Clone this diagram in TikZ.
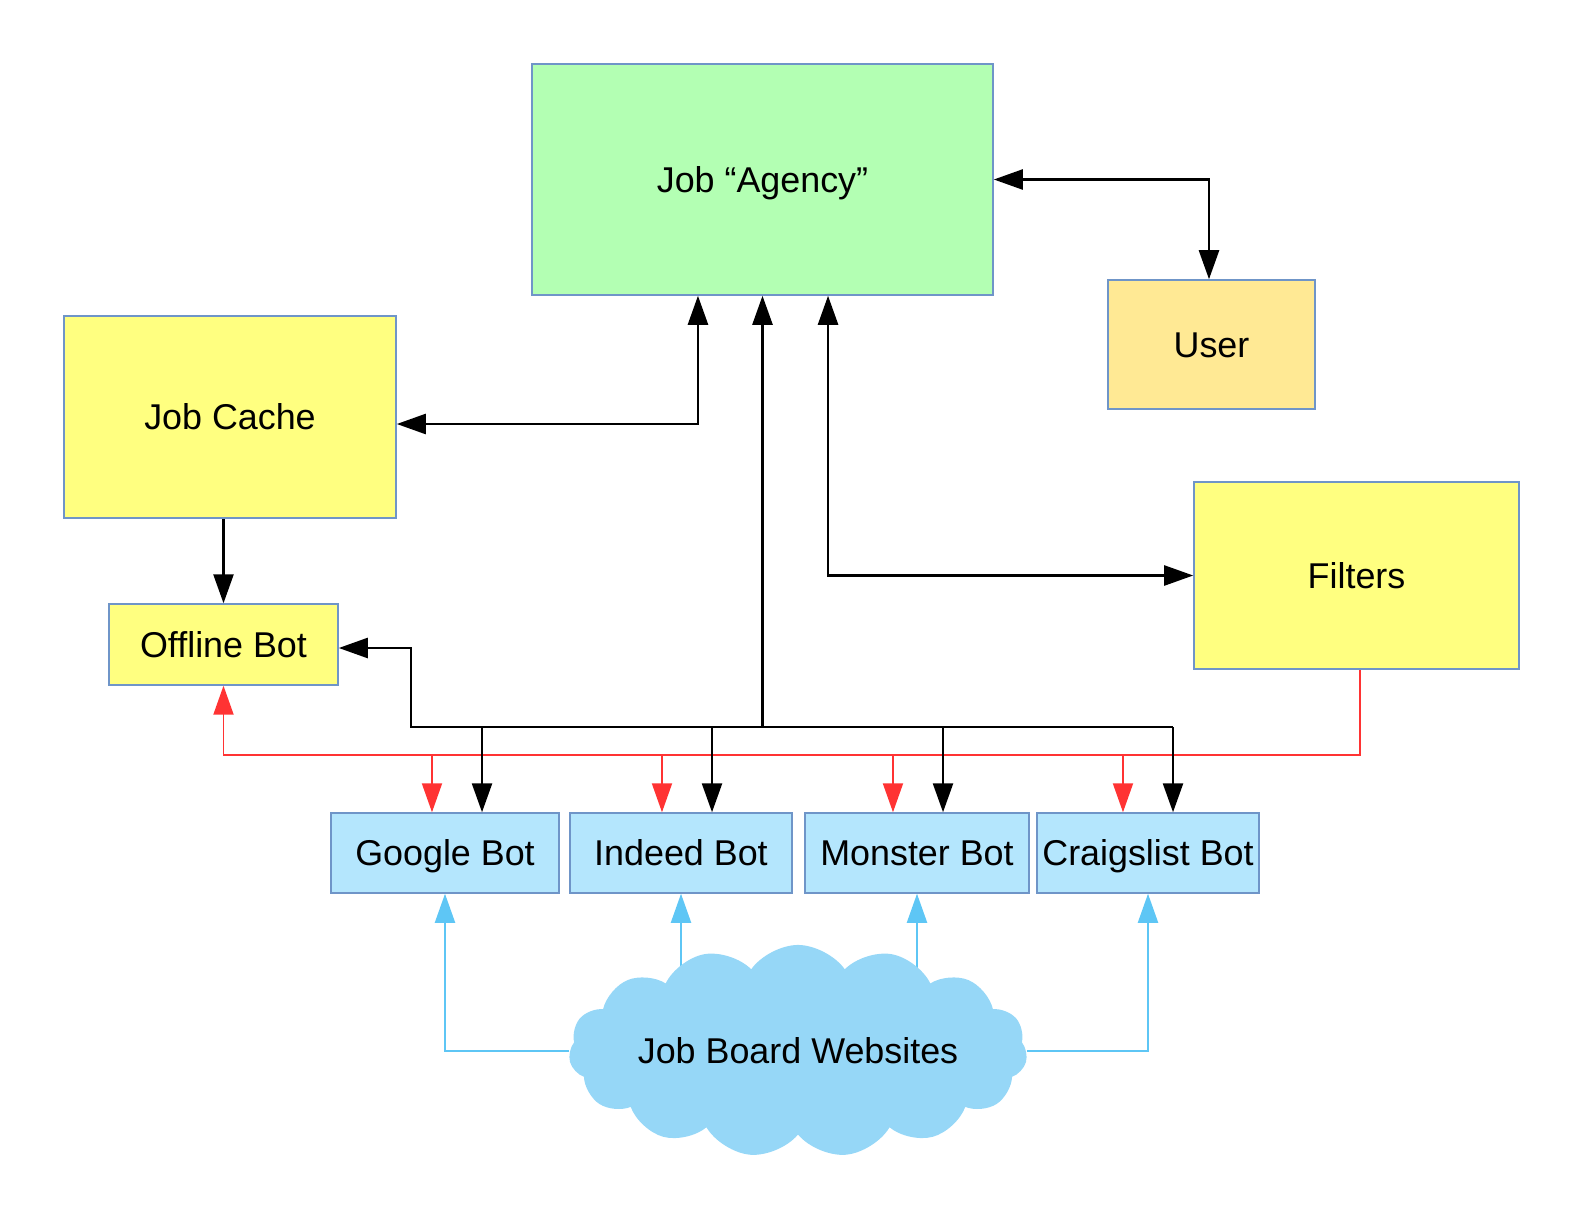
\documentclass[tikz,border=0pt]{standalone}
\usepackage{fontspec}
\setmainfont{Liberation Sans}
\usepackage{tikz}
\usetikzlibrary{arrows.meta,shapes.symbols,backgrounds}
\definecolor{boxline}{HTML}{6F95C8}
\definecolor{agencygreen}{HTML}{B3FFB3}
\definecolor{cacheyellow}{HTML}{FFFF80}
\definecolor{usergold}{HTML}{FFE994}
\definecolor{botblue}{HTML}{B4E6FD}
\definecolor{cloudblue}{HTML}{96D7F7}
\definecolor{redwire}{HTML}{FF3333}
\definecolor{bluewire}{HTML}{5EC6F5}

\begin{document}
\begin{tikzpicture}[x=0.01cm, y=-0.01cm,
		label font/.style={font=\fontsize{10.2}{12}\selectfont, text height=0.72em, text depth=0pt},
		box/.style={draw=boxline, line width=0.4pt, inner sep=0pt, label font},
		tri/.tip={Triangle[width=0.2cm, length=0.29cm]},
		blackline/.style={draw=black, line width=0.7pt},
		redline/.style={draw=redwire, line width=0.55pt},
		blueline/.style={draw=bluewire, line width=0.55pt}]
				\useasboundingbox (0,0) rectangle (1584,1224);
				\node[box, fill=agencygreen, minimum width=4.61cm, minimum height=2.31cm] (agency) at (762.5,179.5) {Job “Agency”};
				\node[box, fill=usergold, minimum width=2.07cm, minimum height=1.29cm] (user) at (1211.5,344.5) {User};
				\node[box, fill=cacheyellow, minimum width=3.32cm, minimum height=2.02cm] (cache) at (230,417) {Job Cache};
				\node[box, fill=cacheyellow, minimum width=2.29cm, minimum height=0.81cm] (offline) at (223.5,644.5) {Offline Bot};
				\node[box, fill=cacheyellow, minimum width=3.25cm, minimum height=1.87cm] (filters) at (1356.5,575.5) {Filters};
				\node[box, fill=botblue, minimum width=2.28cm, minimum height=0.8cm] (google) at (445,853) {Google Bot};
				\node[box, fill=botblue, minimum width=2.22cm, minimum height=0.8cm] (indeed) at (681,853) {Indeed Bot};
				\node[box, fill=botblue, minimum width=2.24cm, minimum height=0.8cm] (monster) at (917,853) {Monster Bot};
				\node[box, fill=botblue, minimum width=2.22cm, minimum height=0.8cm] (craigslist) at (1148,853) {Craigslist Bot};
				\node[cloud, cloud puffs=15, cloud puff arc=110, aspect=3.2, fill=cloudblue, inner sep=0pt, label font,
					minimum width=4.46cm, minimum height=2.12cm] (cloud) at (798,1051) {Job Board Websites};
				\coordinate (blackbus) at (762.5,727);
				\coordinate (redbus) at (762.5,755);
				\foreach \bot/\dx/\rx in {google/0.37/-0.13, indeed/0.31/-0.19, monster/0.26/-0.24, craigslist/0.25/-0.25} {
					\coordinate (\bot-in) at ([xshift=\dx cm]\bot.north);
					\coordinate (\bot-red) at ([xshift=\rx cm]\bot.north);
				}
				\draw[blackline, tri-tri] (agency.east) -| ([xshift=-0.025cm]user.north);
				\draw[blackline, tri-tri] ([xshift=-0.645cm]agency.south) |- ([yshift=-0.07cm]cache.east);
				\draw[blackline, tri-tri] ([xshift=0.655cm]agency.south) |- (filters.west);
				\draw[blackline, -tri] (cache.south -| offline.north) -- (offline.north);
				\draw[redline, -tri] ([xshift=0.035cm]filters.south) |- (redbus) -| (offline.south);
				\foreach \bot in {google, indeed, monster, craigslist}
					\draw[redline, -tri] (\bot-red |- redbus) -- (\bot-red);
				\draw[blackline, -tri] (blackbus) -- (agency.south);
				\draw[blackline, -tri] (craigslist-in |- blackbus) -| ([xshift=0.72cm, yshift=-0.035cm]offline.east) -- ([yshift=-0.035cm]offline.east);
				\foreach \bot in {google, indeed, monster, craigslist}
					\draw[blackline, -tri] (\bot-in |- blackbus) -- (\bot-in);
				\begin{scope}[on background layer]
					\draw[blueline, -tri] (cloud) -| (google.south);
					\draw[blueline, -tri] (indeed.south |- cloud.center) -- (indeed.south);
					\draw[blueline, -tri] (monster.south |- cloud.center) -- (monster.south);
					\draw[blueline, -tri] (cloud) -| (craigslist.south);
				\end{scope}
			\end{tikzpicture}%
\end{document}
